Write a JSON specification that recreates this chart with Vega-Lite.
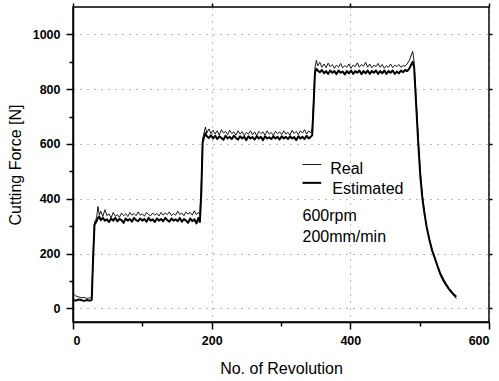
{
  "$schema": "https://vega.github.io/schema/vega-lite/v6.json",
  "width": 416,
  "height": 315,
  "autosize": {"type": "none"},
  "padding": {"left": 73, "top": 7, "right": 10, "bottom": 59},
  "background": "white",
  "config": {
    "font": "Liberation Sans",
    "view": {"stroke": "black", "strokeWidth": 1.5},
    "axis": {
      "domainColor": "black",
      "domainWidth": 1.5,
      "tickColor": "black",
      "tickWidth": 1.5,
      "labelColor": "black",
      "labelFont": "Liberation Sans",
      "labelFontSize": 12.5,
      "labelFontWeight": "bold",
      "titleColor": "black",
      "titleFont": "Liberation Sans",
      "titleFontSize": 16,
      "titleFontWeight": "normal",
      "gridColor": "#777777",
      "gridDash": [1, 6],
      "gridWidth": 1
    }
  },
  "resolve": {"axis": {"x": "independent", "y": "independent"}},
  "layer": [
    {
      "data": {
        "values": [
          {"r": 0, "Real": 55, "Estimated": 30},
          {"r": 4, "Real": 45, "Estimated": 28},
          {"r": 8, "Real": 42, "Estimated": 32},
          {"r": 12, "Real": 38, "Estimated": 30},
          {"r": 16, "Real": 40, "Estimated": 27},
          {"r": 20, "Real": 36, "Estimated": 30},
          {"r": 24, "Real": 38, "Estimated": 28},
          {"r": 27, "Real": 40, "Estimated": 30},
          {"r": 29, "Real": 200, "Estimated": 180},
          {"r": 31, "Real": 315, "Estimated": 305},
          {"r": 34, "Real": 330, "Estimated": 318},
          {"r": 36, "Real": 372, "Estimated": 330},
          {"r": 38, "Real": 340, "Estimated": 335},
          {"r": 40, "Real": 355, "Estimated": 322},
          {"r": 43, "Real": 335, "Estimated": 330},
          {"r": 46, "Real": 360, "Estimated": 320},
          {"r": 49, "Real": 338, "Estimated": 325},
          {"r": 52, "Real": 345, "Estimated": 315},
          {"r": 55, "Real": 330, "Estimated": 328},
          {"r": 58, "Real": 350, "Estimated": 320},
          {"r": 61, "Real": 336, "Estimated": 330},
          {"r": 64, "Real": 342, "Estimated": 318},
          {"r": 67, "Real": 332, "Estimated": 326},
          {"r": 70, "Real": 348, "Estimated": 322},
          {"r": 73, "Real": 338, "Estimated": 312},
          {"r": 76, "Real": 345, "Estimated": 328},
          {"r": 79, "Real": 335, "Estimated": 320},
          {"r": 82, "Real": 350, "Estimated": 326},
          {"r": 85, "Real": 340, "Estimated": 316},
          {"r": 88, "Real": 346, "Estimated": 330},
          {"r": 91, "Real": 338, "Estimated": 322},
          {"r": 94, "Real": 352, "Estimated": 318},
          {"r": 97, "Real": 340, "Estimated": 328},
          {"r": 100, "Real": 345, "Estimated": 320},
          {"r": 103, "Real": 336, "Estimated": 326},
          {"r": 106, "Real": 350, "Estimated": 316},
          {"r": 109, "Real": 342, "Estimated": 330},
          {"r": 112, "Real": 338, "Estimated": 320},
          {"r": 115, "Real": 348, "Estimated": 325},
          {"r": 118, "Real": 340, "Estimated": 315},
          {"r": 121, "Real": 346, "Estimated": 328},
          {"r": 124, "Real": 337, "Estimated": 320},
          {"r": 127, "Real": 350, "Estimated": 326},
          {"r": 130, "Real": 340, "Estimated": 318},
          {"r": 133, "Real": 348, "Estimated": 330},
          {"r": 136, "Real": 342, "Estimated": 322},
          {"r": 139, "Real": 352, "Estimated": 316},
          {"r": 142, "Real": 338, "Estimated": 328},
          {"r": 145, "Real": 346, "Estimated": 320},
          {"r": 148, "Real": 340, "Estimated": 325},
          {"r": 151, "Real": 355, "Estimated": 318},
          {"r": 154, "Real": 342, "Estimated": 330},
          {"r": 157, "Real": 348, "Estimated": 316},
          {"r": 160, "Real": 338, "Estimated": 326},
          {"r": 163, "Real": 352, "Estimated": 320},
          {"r": 166, "Real": 344, "Estimated": 312},
          {"r": 169, "Real": 350, "Estimated": 328},
          {"r": 172, "Real": 340, "Estimated": 318},
          {"r": 175, "Real": 356, "Estimated": 325},
          {"r": 178, "Real": 342, "Estimated": 310},
          {"r": 181, "Real": 350, "Estimated": 330},
          {"r": 183, "Real": 340, "Estimated": 315},
          {"r": 185, "Real": 450, "Estimated": 420},
          {"r": 187, "Real": 620, "Estimated": 605},
          {"r": 189, "Real": 640, "Estimated": 625},
          {"r": 191, "Real": 662, "Estimated": 640},
          {"r": 193, "Real": 640, "Estimated": 628},
          {"r": 196, "Real": 655, "Estimated": 622},
          {"r": 199, "Real": 638, "Estimated": 632},
          {"r": 202, "Real": 650, "Estimated": 620},
          {"r": 205, "Real": 636, "Estimated": 630},
          {"r": 208, "Real": 648, "Estimated": 618},
          {"r": 211, "Real": 632, "Estimated": 628},
          {"r": 214, "Real": 652, "Estimated": 622},
          {"r": 217, "Real": 640, "Estimated": 615},
          {"r": 220, "Real": 646, "Estimated": 630},
          {"r": 223, "Real": 634, "Estimated": 620},
          {"r": 226, "Real": 650, "Estimated": 626},
          {"r": 229, "Real": 638, "Estimated": 618},
          {"r": 232, "Real": 644, "Estimated": 630},
          {"r": 235, "Real": 632, "Estimated": 622},
          {"r": 238, "Real": 648, "Estimated": 616},
          {"r": 241, "Real": 636, "Estimated": 628},
          {"r": 244, "Real": 645, "Estimated": 620},
          {"r": 247, "Real": 630, "Estimated": 626},
          {"r": 250, "Real": 642, "Estimated": 614},
          {"r": 253, "Real": 636, "Estimated": 628},
          {"r": 256, "Real": 648, "Estimated": 620},
          {"r": 259, "Real": 634, "Estimated": 625},
          {"r": 262, "Real": 644, "Estimated": 616},
          {"r": 265, "Real": 630, "Estimated": 628},
          {"r": 268, "Real": 646, "Estimated": 620},
          {"r": 271, "Real": 638, "Estimated": 626},
          {"r": 274, "Real": 644, "Estimated": 614},
          {"r": 277, "Real": 632, "Estimated": 628},
          {"r": 280, "Real": 648, "Estimated": 620},
          {"r": 283, "Real": 636, "Estimated": 624},
          {"r": 286, "Real": 642, "Estimated": 618},
          {"r": 289, "Real": 630, "Estimated": 628},
          {"r": 292, "Real": 646, "Estimated": 620},
          {"r": 295, "Real": 638, "Estimated": 626},
          {"r": 298, "Real": 644, "Estimated": 616},
          {"r": 301, "Real": 634, "Estimated": 628},
          {"r": 304, "Real": 648, "Estimated": 620},
          {"r": 307, "Real": 636, "Estimated": 626},
          {"r": 310, "Real": 642, "Estimated": 618},
          {"r": 313, "Real": 632, "Estimated": 628},
          {"r": 316, "Real": 650, "Estimated": 620},
          {"r": 319, "Real": 638, "Estimated": 625},
          {"r": 322, "Real": 646, "Estimated": 614},
          {"r": 325, "Real": 634, "Estimated": 628},
          {"r": 328, "Real": 648, "Estimated": 620},
          {"r": 331, "Real": 640, "Estimated": 626},
          {"r": 334, "Real": 652, "Estimated": 618},
          {"r": 337, "Real": 636, "Estimated": 630},
          {"r": 340, "Real": 648, "Estimated": 620},
          {"r": 343, "Real": 640, "Estimated": 626},
          {"r": 345, "Real": 655, "Estimated": 632},
          {"r": 347, "Real": 760, "Estimated": 740},
          {"r": 349, "Real": 880, "Estimated": 860},
          {"r": 351, "Real": 905, "Estimated": 875},
          {"r": 353, "Real": 885, "Estimated": 868},
          {"r": 356, "Real": 898, "Estimated": 862},
          {"r": 359, "Real": 880, "Estimated": 870},
          {"r": 362, "Real": 892, "Estimated": 858},
          {"r": 365, "Real": 878, "Estimated": 866},
          {"r": 368, "Real": 895, "Estimated": 856},
          {"r": 371, "Real": 882, "Estimated": 868},
          {"r": 374, "Real": 890, "Estimated": 860},
          {"r": 377, "Real": 876, "Estimated": 866},
          {"r": 380, "Real": 888, "Estimated": 855},
          {"r": 383, "Real": 880, "Estimated": 868},
          {"r": 386, "Real": 894, "Estimated": 860},
          {"r": 389, "Real": 878, "Estimated": 864},
          {"r": 392, "Real": 886, "Estimated": 854},
          {"r": 395, "Real": 880, "Estimated": 866},
          {"r": 398, "Real": 892, "Estimated": 858},
          {"r": 401, "Real": 876, "Estimated": 868},
          {"r": 404, "Real": 888, "Estimated": 856},
          {"r": 407, "Real": 882, "Estimated": 866},
          {"r": 410, "Real": 896, "Estimated": 860},
          {"r": 413, "Real": 880, "Estimated": 868},
          {"r": 416, "Real": 890, "Estimated": 855},
          {"r": 419, "Real": 884, "Estimated": 866},
          {"r": 422, "Real": 898, "Estimated": 858},
          {"r": 425, "Real": 880, "Estimated": 868},
          {"r": 428, "Real": 892, "Estimated": 856},
          {"r": 431, "Real": 878, "Estimated": 866},
          {"r": 434, "Real": 888, "Estimated": 860},
          {"r": 437, "Real": 882, "Estimated": 868},
          {"r": 440, "Real": 894, "Estimated": 856},
          {"r": 443, "Real": 880, "Estimated": 866},
          {"r": 446, "Real": 890, "Estimated": 858},
          {"r": 449, "Real": 876, "Estimated": 868},
          {"r": 452, "Real": 886, "Estimated": 856},
          {"r": 455, "Real": 880, "Estimated": 866},
          {"r": 458, "Real": 892, "Estimated": 860},
          {"r": 461, "Real": 878, "Estimated": 868},
          {"r": 464, "Real": 888, "Estimated": 856},
          {"r": 467, "Real": 882, "Estimated": 864},
          {"r": 470, "Real": 890, "Estimated": 858},
          {"r": 473, "Real": 880, "Estimated": 868},
          {"r": 476, "Real": 886, "Estimated": 862},
          {"r": 479, "Real": 884, "Estimated": 870},
          {"r": 482, "Real": 892, "Estimated": 866},
          {"r": 485, "Real": 905, "Estimated": 875},
          {"r": 488, "Real": 925, "Estimated": 890},
          {"r": 490, "Real": 938, "Estimated": 900},
          {"r": 492, "Real": 900, "Estimated": 880},
          {"r": 495, "Real": 760, "Estimated": 740},
          {"r": 498, "Real": 620, "Estimated": 600},
          {"r": 501, "Real": 500, "Estimated": 480},
          {"r": 504, "Real": 410, "Estimated": 400},
          {"r": 507, "Real": 350, "Estimated": 345},
          {"r": 510, "Real": 300, "Estimated": 298},
          {"r": 514, "Real": 255, "Estimated": 250},
          {"r": 518, "Real": 215, "Estimated": 210},
          {"r": 522, "Real": 185, "Estimated": 182},
          {"r": 526, "Real": 150, "Estimated": 152},
          {"r": 530, "Real": 120, "Estimated": 125},
          {"r": 534, "Real": 98, "Estimated": 105},
          {"r": 538, "Real": 82, "Estimated": 88},
          {"r": 542, "Real": 68, "Estimated": 72},
          {"r": 546, "Real": 55, "Estimated": 60},
          {"r": 550, "Real": 45, "Estimated": 48},
          {"r": 553, "Real": 35, "Estimated": 42}
        ]
      },
      "transform": [{"fold": ["Real", "Estimated"], "as": ["series", "force"]}],
      "mark": {"type": "line", "color": "black", "strokeJoin": "round"},
      "encoding": {
        "x": {
          "field": "r", "type": "quantitative",
          "scale": {"domain": [0, 600], "nice": false},
          "axis": {"orient": "bottom", "values": [0, 200, 400, 600], "format": "d", "grid": true, "tickSize": 7, "labelPadding": 5, "title": "No. of Revolution", "titlePadding": 14}
        },
        "y": {
          "field": "force", "type": "quantitative",
          "scale": {"domain": [-50, 1100], "nice": false},
          "axis": {"orient": "left", "values": [0, 200, 400, 600, 800, 1000], "format": "d", "grid": true, "tickSize": 7, "labelPadding": 6, "title": "Cutting Force [N]", "titlePadding": 9}
        },
        "detail": {"field": "series"},
        "strokeWidth": {
          "field": "series", "type": "nominal",
          "scale": {"domain": ["Real", "Estimated"], "range": [0.9, 2]},
          "legend": null
        }
      }
    },
    {
      "data": {"values": [{}]},
      "mark": {"type": "point", "opacity": 0},
      "encoding": {
        "x": {"datum": 0, "type": "quantitative", "axis": {"orient": "bottom", "values": [100, 300, 500], "labels": false, "grid": false, "domain": false, "tickSize": 4, "title": null}},
        "y": {"datum": 0, "type": "quantitative", "axis": {"orient": "left", "values": [100, 300, 500, 700, 900], "labels": false, "grid": false, "domain": false, "tickSize": 4, "title": null}}
      }
    },
    {
      "data": {"values": [{}]},
      "mark": {"type": "point", "opacity": 0},
      "encoding": {
        "x": {"datum": 0, "type": "quantitative", "axis": {"orient": "top", "values": [0, 200, 400, 600], "labels": false, "grid": false, "domain": false, "tickSize": 4, "title": null}},
        "y": {"datum": 0, "type": "quantitative", "axis": {"orient": "right", "values": [0, 200, 400, 600, 800, 1000], "labels": false, "grid": false, "domain": false, "tickSize": 3, "title": null}}
      }
    },
    {
      "data": {"values": [{"key": "Real", "x1": 331, "x2": 358, "yv": 525}, {"key": "Estimated", "x1": 331, "x2": 358, "yv": 458}]},
      "mark": {"type": "rule", "color": "black"},
      "encoding": {
        "x": {"field": "x1", "type": "quantitative", "axis": null},
        "x2": {"field": "x2"},
        "y": {"field": "yv", "type": "quantitative", "axis": null},
        "strokeWidth": {"field": "key", "type": "nominal", "legend": null}
      }
    },
    {
      "data": {"values": [{"t": "Real", "xv": 371, "yv": 508}, {"t": "Estimated", "xv": 374, "yv": 435}, {"t": "600rpm", "xv": 331, "yv": 337}, {"t": "200mm/min", "xv": 331, "yv": 259}]},
      "mark": {"type": "text", "align": "left", "baseline": "middle", "fontSize": 16, "font": "Liberation Sans", "color": "black"},
      "encoding": {
        "x": {"field": "xv", "type": "quantitative", "axis": null},
        "y": {"field": "yv", "type": "quantitative", "axis": null},
        "text": {"field": "t"}
      }
    }
  ]
}
